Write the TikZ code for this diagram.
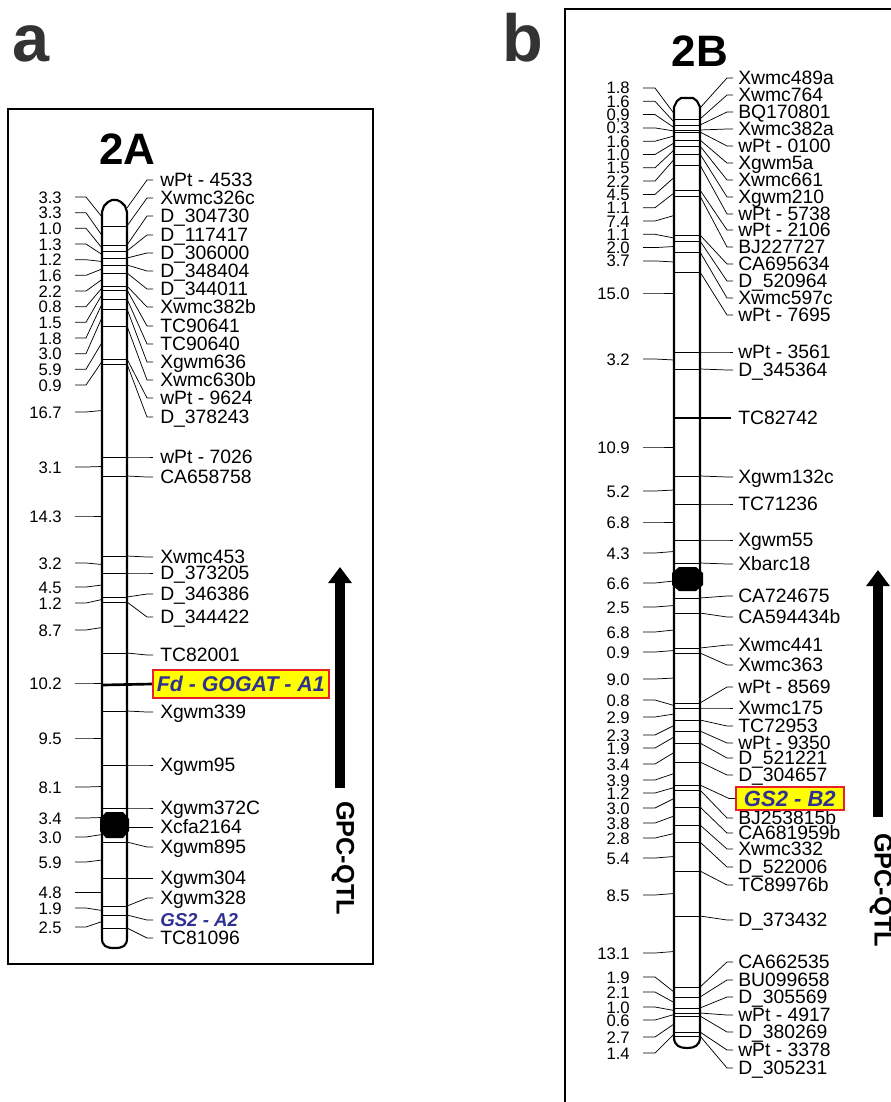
\documentclass[tikz,border=0pt]{standalone}
\usepackage{fontspec}
\setmainfont{Liberation Sans}
\usetikzlibrary{arrows.meta,calc}
\definecolor{GeneBlue}{HTML}{2E3192}
\definecolor{HiYellow}{HTML}{FFFF00}
\definecolor{HiRed}{HTML}{E8202A}
\definecolor{PanelInk}{HTML}{333333}
\newcommand{\wpt}[1]{wPt - #1}

\begin{document}
\begin{tikzpicture}[x=0.75pt,y=-0.75pt,
  boxframe/.style={line width=1.4pt},
  chrom/.style={line width=1.6pt,line join=round},
  band/.style={line width=0.6pt},
  conn/.style={line width=0.55pt},
  thickmark/.style={line width=2pt},
  mk/.style={anchor=base west,inner sep=0pt,yshift=-5.2pt,
    font=\fontsize{14.5}{14.5}\selectfont},
  cmval/.style={anchor=base east,inner sep=0pt,yshift=-4.5pt,
    font=\fontsize{12.5}{12.5}\selectfont},
  gene/.style={font=\fontsize{16}{16}\selectfont\bfseries\itshape,
    text=GeneBlue},
  genebox/.style={gene,anchor=west,fill=HiYellow,draw=HiRed,
    line width=1.2pt,inner sep=0pt},
  qtl/.style={line width=7.5pt,-{Triangle[length=12pt,width=17pt]}},
  qtltext/.style={rotate=-90,font=\fontsize{19}{19}\selectfont\bfseries},
  chromtitle/.style={anchor=base,font=\fontsize{33}{33}\selectfont\bfseries},
  panel/.style={anchor=base,text=PanelInk,
    font=\fontsize{50}{50}\selectfont\bfseries}]
\useasboundingbox (0,0) rectangle (890,1102);

% ---- panel a: chromosome 2A
\node[panel] (pa) at (31.5,62) {a};
\draw[boxframe] (8,109) rectangle (373,964);
\node[chromtitle] (tA) at (127.5,165) {2A};
\draw[chrom] (102,938) -- (102,212) -- (104,206) -- (108,202) -- (112,200)
  -- (117,200) -- (121,202) -- (125,206) -- (127,212) -- (127,938)
  .. controls (127,946) and (123,948) .. (114.5,948)
  .. controls (106,948) and (102,946) .. cycle;
\fill (100,819) -- (106,812) -- (123,812) -- (129,819) -- (129,831)
  -- (123,838) -- (106,838) -- (100,831) -- cycle;

% intervals (cM) on the left
\foreach \v/\l/\c [count=\i] in {3.3/197/217, 3.3/212.7/235.5, 1.0/228.3/248,
    1.3/244/254.5, 1.2/259.7/261.5, 1.6/275.3/269, 2.2/291/279.5,
    0.8/306.7/288, 1.5/322.3/294.5, 1.8/338/304, 3.0/353.7/317.5,
    5.9/369.3/342.5, 0.9/385/361.5, 16.7/412/410.5, 3.1/467/466.5,
    14.3/516/516, 3.2/563/564.5, 4.5/587/585, 1.2/603/599.5, 8.7/630/627.5,
    10.2/683/683, 9.5/738/738, 8.1/787/786.5, 3.4/818/817.5, 3.0/837/834.5,
    5.9/862/860, 4.8/892/892, 1.9/908/910.5, 2.5/927/921.5}{
  \coordinate (aS\i) at (75,\l);
  \coordinate (aL\i) at (102,\c);
  \node[cmval] (aD\i) at (62,\l) {\v};
  \draw[conn] (aS\i) -- ($(aS\i)+(11,0)$) -- (aL\i);
}

% markers on the right
\foreach \nm/\m/\l [count=\i] in {{\wpt{4533}}/208/180, Xwmc326c/226/198,
    D\_304730/245/216, D\_117417/251/235, D\_306000/258/253,
    D\_348404/265/271, D\_344011/273/289, Xwmc382b/286/307,
    TC90641/290/326, TC90640/299/344, Xgwm636/309/362, Xwmc630b/326/380,
    {\wpt{9624}}/359/398, D\_378243/364/417, {\wpt{7026}}/457/457,
    CA658758/476/477, Xwmc453/556/557, D\_373205/573/573,
    D\_346386/597/594, D\_344422/602/617, TC82001/653/655,
    Xgwm339/711/712, Xgwm95/765/765, Xgwm372C/808/808,
    Xcfa2164/827/827, Xgwm895/842/847, Xgwm304/878/878,
    Xgwm328/906/898, TC81096/928/938}{
  \coordinate (aR\i) at (127,\m);
  \coordinate (aT\i) at (153,\l);
  \ifdim\m pt>212pt \draw[band] (102,\m) -- (aR\i); \fi
  \draw[conn] (aR\i) -- ($(aT\i)+(-6,0)$) -- (aT\i);
  \node[mk] (aM\i) at (160,\l) {\nm};
}

% genes on 2A
\coordinate (fdR) at (103,685);
\node[genebox,minimum width=132pt,minimum height=21pt] (fd) at (152,684)
  {Fd - GOGAT - A1};
\draw[thickmark] (fdR) -- (fd.west);
\coordinate (gaR) at (127,915);
\coordinate (gaT) at (153,920);
\draw[band] (102,915) -- (gaR);
\draw[conn] (gaR) -- ($(gaT)+(-6,0)$) -- (gaT);
\node[mk,gene,font=\fontsize{14}{14}\selectfont\bfseries\itshape] (ga)
  at (160,920) {GS2 - A2};

% QTL arrow
\coordinate (qa1) at (340,788);
\coordinate (qa2) at (340,567);
\draw[qtl] (qa1) -- (qa2);
\node[qtltext] (qaT) at (343,858) {GPC-QTL};

% ---- panel b: chromosome 2B
\node[panel] (pb) at (523,62) {b};
\draw[boxframe] (565,1110) -- (565,9) -- (895,9);
\node[chromtitle] (tB) at (700,67) {2B};
\draw[chrom] (674,1037) -- (674,107) -- (677,101) -- (681,98) -- (693,98)
  -- (697,101) -- (700,107) -- (700,1037)
  .. controls (700,1046) and (694,1048) .. (687,1048)
  .. controls (680,1048) and (674,1046) .. cycle;
\fill (672,573) -- (679,567) -- (696,567) -- (703,573) -- (703,585)
  -- (696,591) -- (679,591) -- (672,585) -- cycle;

% intervals (cM) on the left
\foreach \v/\l/\c [count=\i] in {1.8/88/113.5, 1.6/101.3/122, {0,9}/114.6/127.5,
    0.3/127.9/131, 1.6/141.2/136, 1.0/154.5/143, 1.5/167.8/150,
    2.2/181.1/159.5, 4.5/194.4/177.5, 1.1/207.7/193, 7.4/221/215.5,
    1.1/234.3/238, 2.0/247.6/246.5, 3.7/260.9/262, 15.0/293/293,
    3.2/359/360, 10.9/447/447, 5.2/491/490, 6.8/522/522, 4.3/553/551.5,
    6.6/583/581, 2.5/607/605.5, 6.8/632/630, 0.9/652/650.5, 9.0/679/678,
    0.8/700/705.5, 2.9/717/714, 2.3/735/725.5, 1.9/748/737, 3.4/764/752.5,
    3.9/780/773.5, 1.2/793/787.5, 3.0/808/798.5, 3.8/823/816,
    2.8/838/833.5, 5.4/858/856.5, 8.5/895/893.5, 13.1/953/951.5,
    1.9/977/992, 2.1/992/1002.5, 1.0/1007/1010.5, 0.6/1020/1014.5,
    2.7/1037/1024, 1.4/1053/1034}{
  \coordinate (bS\i) at (643,\l);
  \coordinate (bL\i) at (674,\c);
  \node[cmval] (bD\i) at (630,\l) {\v};
  \draw[conn] (bS\i) -- ($(bS\i)+(12,0)$) -- (bL\i);
}

% markers on the right
\foreach \nm/\m/\l [count=\i] in {Xwmc489a/108/78, Xwmc764/119/95,
    BQ170801/125/112, Xwmc382a/130/129, {\wpt{0100}}/132/146,
    Xgwm5a/140/163, Xwmc661/146/180, Xgwm210/154/197,
    {\wpt{5738}}/165/214, {\wpt{2106}}/190/230, BJ227727/196/247,
    CA695634/235/264, D\_520964/241/281, Xwmc597c/252/298,
    {\wpt{7695}}/272/315, {\wpt{3561}}/352/352, D\_345364/369/370,
    Xgwm132c/476/477, TC71236/504/504, Xgwm55/540/540, Xbarc18/563/564,
    CA724675/598/596, CA594434b/613/617, Xwmc441/648/645,
    Xwmc363/653/665, {\wpt{8569}}/703/687, Xwmc175/708/708,
    TC72953/720/726, {\wpt{9350}}/731/743, D\_521221/743/758,
    D\_304657/762/775, BJ253815b/790/818, CA681959b/807/833,
    Xwmc332/825/849, D\_522006/842/867, TC89976b/871/885,
    D\_373432/916/920, CA662535/987/962, BU099658/997/980,
    D\_305569/1008/997, {\wpt{4917}}/1013/1015, D\_380269/1016/1032,
    {\wpt{3378}}/1032/1050, D\_305231/1036/1068}{
  \coordinate (bR\i) at (700,\m);
  \coordinate (bT\i) at (733,\l);
  \ifdim\m pt>110pt \draw[band] (674,\m) -- (bR\i); \fi
  \draw[conn] (bR\i) -- ($(bT\i)+(-6,0)$) -- (bT\i);
  \node[mk] (bM\i) at (738,\l) {\nm};
}

% TC82742 and the gene on 2B
\coordinate (tcL) at (675,418);
\coordinate (tcT) at (731,418);
\draw[thickmark] (tcL) -- (tcT);
\node[mk] (tcM) at (738,418) {TC82742};
\coordinate (gbR) at (700,785);
\draw[band] (674,785) -- (gbR);
\node[genebox,font=\fontsize{16.5}{16.5}\selectfont\bfseries\itshape,
  minimum width=81pt,minimum height=17.3pt] (gb) at (735,798.5) {GS2 - B2};
\draw[conn] (gbR) -- ($(gb.west)+(-6,0)$) -- (gb.west);

% QTL arrow
\coordinate (qb1) at (878,817);
\coordinate (qb2) at (878,570);
\draw[qtl] (qb1) -- (qb2);
\node[qtltext] (qbT) at (881,890) {GPC-QTL};
\end{tikzpicture}
\end{document}
